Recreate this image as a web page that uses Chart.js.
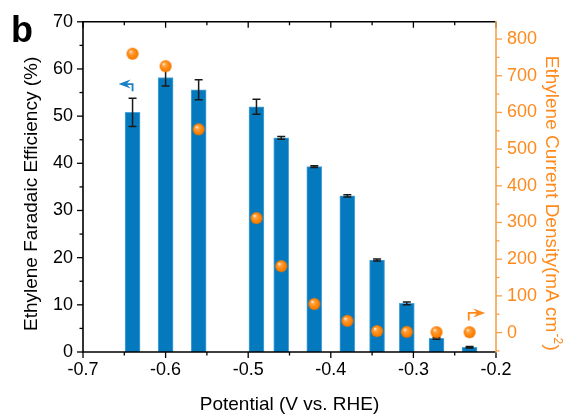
<!DOCTYPE html>
<html><head><meta charset="utf-8">
<script src="https://cdn.jsdelivr.net/npm/chart.js@4/dist/chart.umd.min.js"></script>
<style>html,body{margin:0;padding:0;background:#fff;}#wrap{width:569px;height:416px;position:relative;}</style>
</head><body><div id="wrap"><canvas id="c" width="569" height="416"></canvas></div>
<script>
// ---- data ----
const potentials = [-0.64, -0.60, -0.56, -0.49, -0.46, -0.42, -0.38, -0.344, -0.308, -0.272, -0.232];
const faradaicEff = [50.8, 58.2, 55.6, 52.0, 45.4, 39.3, 33.1, 19.5, 10.3, 2.9, 1.0];
const faradaicErr = [3.0, 1.8, 2.1, 1.6, 0.3, 0.2, 0.25, 0.2, 0.3, 0.2, 0.15];
const currentDensity = [760, 726, 554, 312, 181, 78, 32, 4, 2, 1, 1];
const xTicks = [-0.7, -0.6, -0.5, -0.4, -0.3, -0.2];
const leftTicks = [0, 10, 20, 30, 40, 50, 60, 70];
const rightTicks = [0, 100, 200, 300, 400, 500, 600, 700, 800];
const xTitle = 'Potential (V vs. RHE)';
const leftTitle = 'Ethylene Faradaic Efficiency (%)';
const rightTitle = ['Ethylene Current Density(mA cm', '-2', ')'];
const panelLabel = 'b';
// arrow annotations (data coordinates)
const blueArrow = {x: -0.64, yFrom: 55.3, yTo: 56.8, xTip: -0.657};
const orangeArrow = {x: -0.233, yFrom: 33, yTo: 53.5, xTip: -0.213};

const BLUE = '#0579BD', ORANGE = '#FF8A1C', ORANGE_AXIS = '#F7A048';
const FONT = "'Liberation Sans', Arial, sans-serif";

function sphere(r) {
  const c = document.createElement('canvas');
  const s = 2 * r + 2; c.width = s; c.height = s;
  const g = c.getContext('2d');
  const cx = s / 2, cy = s / 2;
  const grad = g.createRadialGradient(cx - r * 0.35, cy - r * 0.4, 0.3, cx, cy, r);
  grad.addColorStop(0, '#FFF0DC');
  grad.addColorStop(0.28, '#FFA040');
  grad.addColorStop(0.75, '#FF8300');
  grad.addColorStop(1, '#EC7000');
  g.fillStyle = grad; g.beginPath(); g.arc(cx, cy, r, 0, Math.PI * 2); g.fill();
  return c;
}
const dot = sphere(6);

const errPlugin = {
  id: 'errbars',
  afterDatasetDraw(chart, args) {
    if (args.index !== 0) return;
    const ctx = chart.ctx, x = chart.scales.x, y = chart.scales.y;
    ctx.save(); ctx.strokeStyle = '#1a1a1a'; ctx.lineWidth = 1.5;
    potentials.forEach((p, i) => {
      const px = x.getPixelForValue(p);
      const t = y.getPixelForValue(faradaicEff[i] + faradaicErr[i]);
      const b = y.getPixelForValue(faradaicEff[i] - faradaicErr[i]);
      ctx.beginPath();
      ctx.moveTo(px, t); ctx.lineTo(px, b);
      ctx.moveTo(px - 4, t); ctx.lineTo(px + 4, t);
      ctx.moveTo(px - 4, b); ctx.lineTo(px + 4, b);
      ctx.stroke();
    });
    ctx.restore();
  }
};

function arrow(ctx, xs, a, yScale, color, dir) {
  const px = xs.getPixelForValue(a.x), p0 = yScale.getPixelForValue(a.yFrom), p1 = yScale.getPixelForValue(a.yTo);
  const tip = xs.getPixelForValue(a.xTip);
  ctx.save(); ctx.strokeStyle = color; ctx.fillStyle = color; ctx.lineWidth = 1.8;
  ctx.beginPath(); ctx.moveTo(px, p0); ctx.lineTo(px, p1); ctx.lineTo(tip - dir * 6, p1); ctx.stroke();
  ctx.beginPath();
  ctx.moveTo(tip, p1);
  ctx.lineTo(tip - dir * 12, p1 - 4.5);
  ctx.lineTo(tip - dir * 8, p1);
  ctx.lineTo(tip - dir * 12, p1 + 4.5);
  ctx.closePath(); ctx.fill();
  ctx.restore();
}

const framePlugin = {
  id: 'frame',
  afterDatasetsDraw(chart) {
    const ctx = chart.ctx, a = chart.chartArea;
    const x = chart.scales.x, y = chart.scales.y, y1 = chart.scales.y1;
    arrow(ctx, x, blueArrow, y, '#1A80C6', -1);
    arrow(ctx, x, orangeArrow, y1, ORANGE, 1);
    ctx.save();
    ctx.lineWidth = 1.6; ctx.strokeStyle = '#000';
    ctx.beginPath();
    ctx.moveTo(a.right, a.top); ctx.lineTo(a.left, a.top); ctx.lineTo(a.left, a.bottom); ctx.lineTo(a.right, a.bottom);
    ctx.stroke();
    ctx.lineWidth = 1.3;
    for (let k = 0; k <= 10; k++) {
      const v = -0.7 + k * 0.05;
      const px = x.getPixelForValue(v);
      const len = k % 2 === 0 ? 6 : 3.5;
      ctx.beginPath();
      ctx.moveTo(px, a.bottom); ctx.lineTo(px, a.bottom + len);
      ctx.moveTo(px, a.top); ctx.lineTo(px, a.top + len);
      ctx.stroke();
    }
    for (let v = 0; v <= 70; v += 5) {
      const py = y.getPixelForValue(v);
      const len = v % 10 === 0 ? 6 : 3.5;
      ctx.beginPath(); ctx.moveTo(a.left, py); ctx.lineTo(a.left - len, py); ctx.stroke();
    }
    ctx.strokeStyle = ORANGE_AXIS; ctx.lineWidth = 1.6;
    ctx.beginPath(); ctx.moveTo(a.right, a.top - 0.8); ctx.lineTo(a.right, a.bottom + 0.8); ctx.stroke();
    ctx.lineWidth = 1.3;
    for (let v = -50; v <= 800; v += 50) {
      const py = y1.getPixelForValue(v);
      if (py > a.bottom + 0.5) continue;
      const len = v % 100 === 0 ? 6 : 3.5;
      ctx.beginPath(); ctx.moveTo(a.right, py); ctx.lineTo(a.right + len, py); ctx.stroke();
    }
    ctx.restore();
  },
  afterDraw(chart) {
    const ctx = chart.ctx, a = chart.chartArea;
    ctx.save();
    ctx.fillStyle = '#000';
    ctx.font = '19px ' + FONT;
    ctx.textAlign = 'center'; ctx.textBaseline = 'alphabetic';
    ctx.fillText(xTitle, (a.left + a.right) / 2, a.bottom + 58);
    ctx.save();
    ctx.translate(a.left - 46, (a.top + a.bottom) / 2 + 7);
    ctx.rotate(-Math.PI / 2);
    ctx.fillText(leftTitle, 0, 0);
    ctx.restore();
    ctx.save();
    ctx.fillStyle = ORANGE;
    ctx.translate(a.right + 50, a.top + 34);
    ctx.rotate(Math.PI / 2);
    ctx.textAlign = 'left';
    ctx.fillText(rightTitle[0], 0, 0);
    let w = ctx.measureText(rightTitle[0]).width + 1;
    ctx.font = '12px ' + FONT;
    ctx.fillText(rightTitle[1], w, -8);
    w += ctx.measureText(rightTitle[1]).width + 0.5;
    ctx.font = '19px ' + FONT;
    ctx.fillText(rightTitle[2], w, 0);
    ctx.restore();
    ctx.font = 'bold 36px ' + FONT;
    ctx.textAlign = 'left';
    ctx.fillText(panelLabel, 11, 41.5);
    ctx.restore();
  }
};

const tickFont = {family: FONT, size: 18};
new Chart(document.getElementById('c'), {
  type: 'bar',
  data: {
    datasets: [
      {
        type: 'bar',
        data: potentials.map((p, i) => ({x: p, y: faradaicEff[i]})),
        backgroundColor: BLUE,
        borderColor: '#4FA6DA',
        borderWidth: 1,
        borderSkipped: 'bottom',
        barThickness: 15,
        xAxisID: 'x', yAxisID: 'y',
        order: 2
      },
      {
        type: 'scatter',
        data: potentials.map((p, i) => ({x: p, y: currentDensity[i]})),
        pointStyle: dot,
        pointRadius: 6,
        xAxisID: 'x', yAxisID: 'y1',
        order: 1
      }
    ]
  },
  options: {
    responsive: false, animation: false, devicePixelRatio: 1,
    layout: {padding: {top: 18, left: 0, right: 0, bottom: 0}},
    plugins: {legend: {display: false}, tooltip: {enabled: false}},
    scales: {
      x: {
        type: 'linear', position: 'bottom', min: -0.7, max: -0.2, offset: false,
        afterBuildTicks: s => { s.ticks = xTicks.map(v => ({value: v})); },
        afterFit: s => { s.height = 64; },
        grid: {display: false, drawTicks: false, offset: false},
        border: {display: false},
        ticks: {font: tickFont, color: '#000', padding: 7, maxRotation: 0, autoSkip: false,
          callback: v => Number(v).toFixed(1)}
      },
      y: {
        type: 'linear', position: 'left', min: 0, max: 70,
        afterBuildTicks: s => { s.ticks = leftTicks.map(v => ({value: v})); },
        afterFit: s => { s.width = 83; },
        grid: {display: false, drawTicks: false},
        border: {display: false},
        ticks: {font: tickFont, color: '#000', padding: 10}
      },
      y1: {
        type: 'linear', position: 'right', min: -53, max: 847,
        afterBuildTicks: s => { s.ticks = rightTicks.map(v => ({value: v})); },
        afterFit: s => { s.width = 73; },
        grid: {display: false, drawTicks: false},
        border: {display: false},
        ticks: {font: tickFont, color: ORANGE, padding: 11}
      }
    }
  },
  plugins: [errPlugin, framePlugin]
});
</script></body></html>
